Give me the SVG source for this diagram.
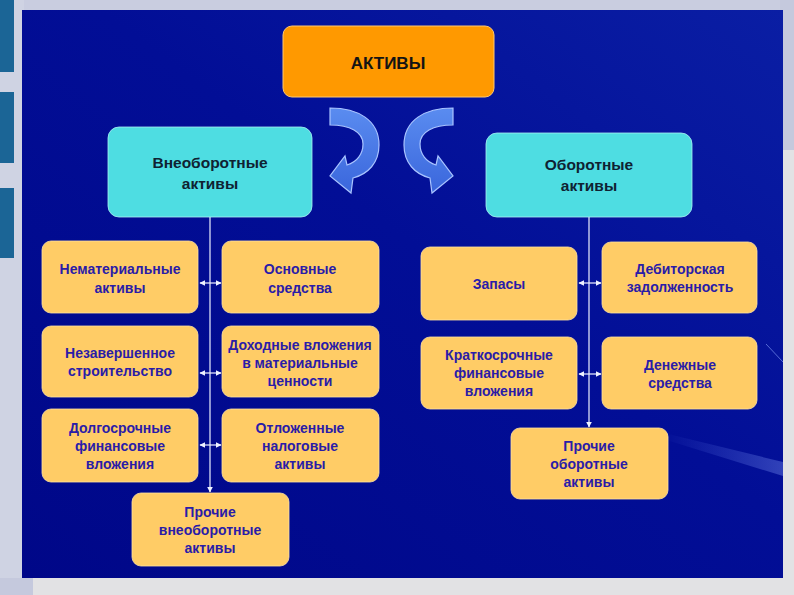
<svg xmlns="http://www.w3.org/2000/svg" width="794" height="595" viewBox="0 0 794 595">
<defs>
<linearGradient id="bg" x1="1" y1="0" x2="0" y2="1">
<stop offset="0" stop-color="#0a1ea4"/>
<stop offset="0.45" stop-color="#020e96"/>
<stop offset="1" stop-color="#000788"/>
</linearGradient>
<linearGradient id="arr" x1="0" y1="0" x2="0" y2="1">
<stop offset="0" stop-color="#5a8cf0"/>
<stop offset="1" stop-color="#3a66dc"/>
</linearGradient>
<linearGradient id="streak" x1="0" y1="0" x2="1" y2="0">
<stop offset="0" stop-color="#6f8cff" stop-opacity="0"/>
<stop offset="1" stop-color="#8fa8ff" stop-opacity="0.55"/>
</linearGradient>
<marker id="ah" viewBox="0 0 10 10" refX="9" refY="5" markerWidth="6" markerHeight="6" orient="auto-start-reverse" markerUnits="userSpaceOnUse">
<path d="M0,0 L10,5 L0,10 Z" fill="#eef2ff"/>
</marker>
<path id="curl" d="M330 108 C358 108 379 120 379 145 C379 163 368 174 353 178 L351 193 L330 176 L345 156 L347 165 C357 162 363 154 363 144 C363 132 350 125 330 125 Z"/>
</defs>
<style>
.node text{font-family:"Liberation Sans",Arial,sans-serif;font-weight:bold;text-anchor:middle}
.y rect{fill:#ffcc66;stroke:#ffe2a0;stroke-width:0.8}
.y text{font-size:14px;fill:#2a1ca8}
.c rect{fill:#4edde2;stroke:#a8f2f4;stroke-width:0.8}
.c text{font-size:15.5px;fill:#0f2232}
.conn line{stroke:#eef2ff;stroke-width:1.2}
.curl{fill:url(#arr);stroke:#a9c4ff;stroke-width:1.2}
</style>

<!-- page background -->
<rect x="0" y="0" width="794" height="595" fill="#e2e2e4"/>
<rect x="0" y="0" width="794" height="12" fill="#c9cde0"/>
<rect x="0" y="0" width="24" height="595" fill="#cfd3e3"/>
<rect x="780" y="0" width="14" height="150" fill="#c5c9dd"/>
<rect x="0" y="578" width="33" height="17" fill="#c5c9dd"/>
<rect x="0" y="0" width="14" height="72" fill="#1b6596"/>
<rect x="0" y="92" width="14" height="71" fill="#1b6596"/>
<rect x="0" y="188" width="14" height="70" fill="#1b6596"/>

<!-- panel -->
<rect x="22" y="10" width="761" height="568" fill="url(#bg)"/>
<path d="M660 432 L783 462 L783 476 L660 438 Z" fill="url(#streak)" opacity="0.6"/>
<line x1="766" y1="344" x2="783" y2="362" stroke="#8fa8ff" stroke-width="1" opacity="0.6"/>

<!-- curved arrows -->
<g id="curl-left"><use href="#curl" class="curl"/></g>
<g id="curl-right"><use href="#curl" class="curl" transform="translate(783,0) scale(-1,1)"/></g>

<!-- connectors -->
<g class="conn">
<line x1="210" y1="217" x2="210" y2="492" marker-end="url(#ah)"/>
<line x1="589" y1="217" x2="589" y2="427" marker-end="url(#ah)"/>
<line x1="200" y1="283" x2="221" y2="283" marker-start="url(#ah)" marker-end="url(#ah)"/>
<line x1="200" y1="373" x2="221" y2="373" marker-start="url(#ah)" marker-end="url(#ah)"/>
<line x1="200" y1="445" x2="221" y2="445" marker-start="url(#ah)" marker-end="url(#ah)"/>
<line x1="579" y1="283" x2="601" y2="283" marker-start="url(#ah)" marker-end="url(#ah)"/>
<line x1="579" y1="374" x2="601" y2="374" marker-start="url(#ah)" marker-end="url(#ah)"/>
</g>

<!-- nodes -->
<g id="aktivy" class="node">
<rect x="283" y="26" width="211" height="71" rx="9" fill="#ff9900" stroke="#ffc870" stroke-width="1"/>
<text x="388" y="69" font-size="17" fill="#141414">АКТИВЫ</text>
</g>
<g id="vneoborotnye" class="node c">
<rect x="108" y="127" width="204" height="90" rx="11"/>
<text x="210" y="168">Внеоборотные</text>
<text x="210" y="189">активы</text>
</g>
<g id="oborotnye" class="node c">
<rect x="486" y="133" width="206" height="84" rx="11"/>
<text x="589" y="170">Оборотные</text>
<text x="589" y="191">активы</text>
</g>

<g id="nematerialnye" class="node y">
<rect x="42" y="241" width="156" height="72" rx="9"/>
<text x="120" y="274">Нематериальные</text>
<text x="120" y="293">активы</text>
</g>
<g id="osnovnye" class="node y">
<rect x="222" y="241" width="157" height="72" rx="9"/>
<text x="300" y="274">Основные</text>
<text x="300" y="293">средства</text>
</g>
<g id="nezavershennoe" class="node y">
<rect x="42" y="326" width="156" height="71" rx="9"/>
<text x="120" y="358">Незавершенное</text>
<text x="120" y="376">строительство</text>
</g>
<g id="dokhodnye" class="node y">
<rect x="222" y="326" width="157" height="71" rx="9"/>
<text x="300" y="350">Доходные вложения</text>
<text x="300" y="368">в материальные</text>
<text x="300" y="386">ценности</text>
</g>
<g id="dolgosrochnye" class="node y">
<rect x="42" y="409" width="156" height="73" rx="9"/>
<text x="120" y="433">Долгосрочные</text>
<text x="120" y="451">финансовые</text>
<text x="120" y="469">вложения</text>
</g>
<g id="otlozhennye" class="node y">
<rect x="222" y="409" width="157" height="73" rx="9"/>
<text x="300" y="433">Отложенные</text>
<text x="300" y="451">налоговые</text>
<text x="300" y="469">активы</text>
</g>
<g id="prochie-vneob" class="node y">
<rect x="132" y="493" width="157" height="73" rx="9"/>
<text x="210" y="517">Прочие</text>
<text x="210" y="535">внеоборотные</text>
<text x="210" y="553">активы</text>
</g>

<g id="zapasy" class="node y">
<rect x="421" y="247" width="156" height="73" rx="9"/>
<text x="499" y="289">Запасы</text>
</g>
<g id="debitorskaya" class="node y">
<rect x="602" y="242" width="155" height="71" rx="9"/>
<text x="680" y="274">Дебиторская</text>
<text x="680" y="292">задолженность</text>
</g>
<g id="kratkosrochnye" class="node y">
<rect x="421" y="337" width="156" height="72" rx="9"/>
<text x="499" y="360">Краткосрочные</text>
<text x="499" y="378">финансовые</text>
<text x="499" y="396">вложения</text>
</g>
<g id="denezhnye" class="node y">
<rect x="602" y="337" width="155" height="72" rx="9"/>
<text x="680" y="370">Денежные</text>
<text x="680" y="388">средства</text>
</g>
<g id="prochie-ob" class="node y">
<rect x="511" y="428" width="157" height="71" rx="9"/>
<text x="589" y="451">Прочие</text>
<text x="589" y="469">оборотные</text>
<text x="589" y="487">активы</text>
</g>
</svg>
